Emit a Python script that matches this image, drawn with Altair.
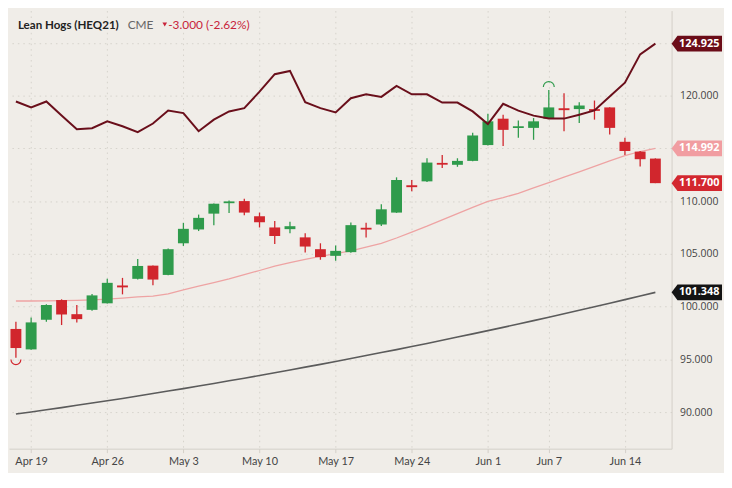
import altair as alt
import pandas as pd

# ---------------- data ----------------
dates = ["Apr 16", "Apr 19", "Apr 20", "Apr 21", "Apr 22", "Apr 23",
         "Apr 26", "Apr 27", "Apr 28", "Apr 29", "Apr 30",
         "May 3", "May 4", "May 5", "May 6", "May 7",
         "May 10", "May 11", "May 12", "May 13", "May 14",
         "May 17", "May 18", "May 19", "May 20", "May 21",
         "May 24", "May 25", "May 26", "May 27", "May 28",
         "Jun 1", "Jun 2", "Jun 3", "Jun 4",
         "Jun 7", "Jun 8", "Jun 9", "Jun 10", "Jun 11",
         "Jun 14", "Jun 15", "Jun 16"]

opens = [97.88, 95.94, 98.75, 100.62, 99.28, 99.69,
         100.31, 102.00, 102.63, 103.88, 103.00,
         106.00, 107.31, 108.81, 109.80, 110.00,
         108.56, 107.50, 107.34, 106.56, 105.44,
         104.81, 105.16, 107.47, 107.78, 108.91,
         111.50, 111.87, 113.62, 113.44, 113.81,
         115.31, 117.81, 116.92, 116.94,
         117.81, 118.80, 118.72, 118.72, 118.88,
         115.62, 114.69, 114.03]
highs = [98.56, 98.97, 100.22, 100.69, 100.15, 101.19,
         102.63, 102.72, 104.50, 103.90, 105.50,
         107.94, 108.72, 109.78, 110.06, 110.22,
         108.91, 108.12, 108.03, 106.94, 106.00,
         105.78, 107.97, 107.94, 109.69, 112.25,
         112.00, 114.06, 114.38, 114.06, 116.47,
         118.28, 118.19, 117.63, 117.87,
         120.53, 120.22, 119.37, 119.53, 118.90,
         116.00, 114.75, 114.05]
lows = [95.16, 95.90, 98.56, 98.25, 98.50, 99.60,
        100.28, 101.16, 102.56, 102.03, 102.97,
        105.75, 107.16, 107.72, 108.87, 108.66,
        107.50, 105.94, 106.94, 105.12, 104.44,
        104.34, 105.10, 106.56, 107.65, 108.88,
        110.94, 111.80, 113.13, 113.25, 113.78,
        115.28, 115.22, 116.00, 115.81,
        117.78, 116.63, 117.40, 117.72, 116.31,
        114.38, 113.28, 111.70]
closes = [96.07, 98.50, 100.15, 99.25, 98.81, 101.06,
          102.25, 101.82, 103.85, 102.56, 105.44,
          107.37, 108.41, 109.75, 109.97, 108.91,
          108.00, 106.69, 107.62, 105.69, 104.69,
          105.28, 107.72, 107.30, 109.22, 112.00,
          111.32, 113.65, 113.45, 113.81, 116.22,
          117.56, 116.75, 117.10, 117.56,
          118.88, 118.62, 119.06, 118.55, 116.94,
          114.75, 113.97, 111.70]

upper_band = [119.44, 118.87, 119.44, 118.12, 116.81, 116.91,
              117.56, 117.09, 116.53, 117.35, 118.59,
              118.34, 116.62, 117.72, 118.50, 118.81,
              120.37, 122.03, 122.34, 119.37, 118.81,
              118.41, 119.75, 120.12, 119.88, 120.91,
              120.12, 120.12, 119.34, 119.34, 118.50,
              117.31, 119.22, 118.57, 118.10,
              117.82, 117.82, 118.19, 118.59, 119.91,
              121.22, 123.91, 124.925]
ma_short = [100.53, 100.53, 100.55, 100.57, 100.59, 100.64,
            100.71, 100.81, 100.91, 101.00, 101.20,
            101.58, 101.95, 102.28, 102.63, 103.03,
            103.42, 103.83, 104.16, 104.48, 104.77,
            105.03, 105.28, 105.63, 106.00, 106.50,
            107.06, 107.62, 108.22, 108.82, 109.41,
            109.97, 110.33, 110.73, 111.26,
            111.75, 112.27, 112.77, 113.29, 113.81,
            114.30, 114.70, 114.992]
ma_long = [89.81, 90.01, 90.22, 90.42, 90.64, 90.86,
           91.07, 91.29, 91.52, 91.76, 91.99,
           92.22, 92.47, 92.71, 92.96, 93.21,
           93.47, 93.73, 93.99, 94.26, 94.52,
           94.80, 95.07, 95.36, 95.64, 95.92,
           96.21, 96.50, 96.80, 97.11, 97.41,
           97.72, 98.03, 98.35, 98.67,
           98.99, 99.32, 99.65, 99.98, 100.31,
           100.66, 101.00, 101.348]

tick_dates = ["Apr 19", "Apr 26", "May 3", "May 10", "May 17",
              "May 24", "Jun 1", "Jun 7", "Jun 14"]
y_ticks = [90, 95, 100, 105, 110, 115, 120, 125]
hidden_y_labels = [115, 125]

tag_values = [124.925, 114.992, 111.700, 101.348]
tag_colors = ["#6b0c18", "#f19da1", "#d3272f", "#141414"]

title_main = "Lean Hogs (HEQ21)"
exchange = "CME"
change_text = "-3.000 (-2.62%)"

# ---------------- styling ----------------
GREEN = "#2f9b4c"
RED = "#d1262d"
BG = "#f0ede8"
GRID = "#d6d2cb"

df = pd.DataFrame({
    "idx": list(range(len(dates))),
    "date": dates,
    "open": opens, "high": highs, "low": lows, "close": closes,
    "upper": upper_band, "ma_s": ma_short, "ma_l": ma_long,
})
df["top"] = df[["open", "close"]].max(axis=1)
df["bot"] = df[["open", "close"]].min(axis=1)

tick_idx = [dates.index(d) for d in tick_dates]
label_expr = "''"
for i, d in zip(reversed(tick_idx), reversed(tick_dates)):
    label_expr = f"datum.value == {i} ? '{d}' : ({label_expr})"

y_label_expr = " || ".join(f"datum.value == {v}" for v in hidden_y_labels)
y_label_expr = f"({y_label_expr}) ? '' : format(datum.value, '.3f')"

xs = alt.Scale(domain=[-0.13, 42.74], nice=False, zero=False)
ys = alt.Scale(domain=[86.53, 128.06], nice=False, zero=False)

x_axis = alt.Axis(values=tick_idx, labelExpr=label_expr, title=None,
                  grid=True, gridColor=GRID, gridDash=[1.5, 4], gridWidth=1,
                  domain=True, domainColor="#d3cfc8", domainWidth=1,
                  ticks=True, tickSize=4, tickColor="#d3cfc8",
                  labelFont="Lato", labelFontSize=11, labelColor="#444444",
                  labelPadding=3)
y_axis = alt.Axis(values=y_ticks, labelExpr=y_label_expr, title=None, orient="right",
                  grid=True, gridColor=GRID, gridDash=[1.5, 4], gridWidth=1,
                  domain=True, domainColor="#d3cfc8", domainWidth=1,
                  ticks=False, labelFont="Open Sans", labelFontSize=10.5,
                  labelColor="#444444", labelPadding=8)

X = alt.X("idx:Q", scale=xs, axis=x_axis)

def Y(field):
    return alt.Y(f"{field}:Q", scale=ys, axis=y_axis)

color_cond = alt.condition("datum.close >= datum.open", alt.value(GREEN), alt.value(RED))

base = alt.Chart(df)

grey_line = base.mark_line(color="#5b5b5b", strokeWidth=1.6).encode(x=X, y=Y("ma_l"))
pink_line = base.mark_line(color="#eea3a3", strokeWidth=1.3).encode(x=X, y=Y("ma_s"))
wicks = base.mark_rule(strokeWidth=1.3).encode(x=X, y=Y("low"), y2="high", color=color_cond)
bodies = base.mark_bar(size=11).encode(x=X, y=Y("bot"), y2="top", color=color_cond)
upper_line = base.mark_line(color="#6a0f1b", strokeWidth=2).encode(x=X, y=Y("upper"))

low_arc = base.transform_window(
    rk="rank()", sort=[alt.SortField("low", order="ascending")]
).transform_filter("datum.rk == 1").mark_point(
    shape="M -1 0 A 1 1 0 0 0 1 0", filled=False, stroke=RED, strokeWidth=1.2,
    size=100, opacity=1, yOffset=2
).encode(x=X, y=Y("low"))

high_arc = base.transform_window(
    rk="rank()", sort=[alt.SortField("high", order="descending")]
).transform_filter("datum.rk == 1").mark_point(
    shape="M -1 0 A 1 1 0 0 1 1 0", filled=False, stroke=GREEN, strokeWidth=1.2,
    size=121, opacity=1, yOffset=-3
).encode(x=X, y=Y("high"))

tags_df = pd.DataFrame({"v": tag_values, "c": tag_colors,
                        "t": [f"{v:.3f}" for v in tag_values]})
tag_shape = "M -1 0 L -0.765 -0.314 L 1 -0.314 L 1 0.314 L -0.765 0.314 Z"
tags = alt.Chart(tags_df).mark_point(
    shape=tag_shape, filled=True, size=2601, opacity=1, strokeWidth=0
).encode(x=alt.value(695.5), y=Y("v"), color=alt.Color("c:N", scale=None))
tag_text = alt.Chart(tags_df).mark_text(
    font="Open Sans", fontSize=11, fontWeight="bold", color="white", align="center",
    baseline="middle"
).encode(x=alt.value(698), y=Y("v"), text="t:N")

head = pd.DataFrame({"a": [0]})
t1 = alt.Chart(head).mark_text(text=title_main, font="Lato", fontSize=11.7,
                               fontWeight="bold", color="#222222", align="left",
                               baseline="middle").encode(x=alt.value(9), y=alt.value(15))
t2 = alt.Chart(head).mark_text(text=exchange, font="Lato", fontSize=12,
                               color="#666666", align="left",
                               baseline="middle").encode(x=alt.value(120), y=alt.value(15))
t3 = alt.Chart(head).mark_point(shape="triangle-down", filled=True, size=22,
                                color="#c8243a", opacity=1).encode(x=alt.value(157.5), y=alt.value(14))
t4 = alt.Chart(head).mark_text(text=change_text, font="Lato", fontSize=12,
                               color="#c8243a", align="left",
                               baseline="middle").encode(x=alt.value(161), y=alt.value(15))

chart = alt.layer(
    grey_line, pink_line, wicks, bodies, upper_line, low_arc, high_arc,
    tags, tag_text, t1, t2, t3, t4
).properties(
    width=670, height=443, background=BG,
    padding={"left": 0, "top": 0, "right": 2, "bottom": 4}
).configure_view(stroke=None)

chart.save("out.html", embed_options={"renderer": "svg", "actions": False})
